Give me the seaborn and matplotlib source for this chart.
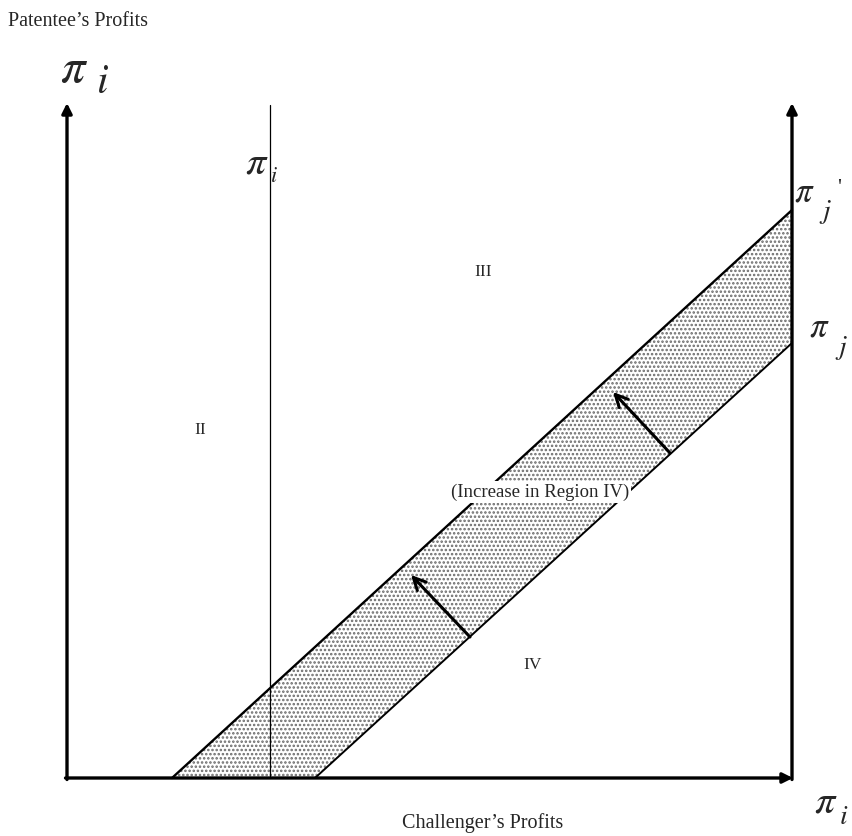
import numpy as np
import matplotlib
matplotlib.use("Agg")
import matplotlib.pyplot as plt
import seaborn as sns

# ---- data (origin at the axes corner, units ~ pixels) ----
axis_x_max = 725
axis_y_max = 673
threshold_x = 203                 # vertical line (pi_i threshold)
upper_line_x = [105, 725]         # pi_j' boundary
upper_line_y = [0, 568]
lower_line_x = [248, 725]         # pi_j boundary
lower_line_y = [0, 435]
arrow_tails = [(403, 141), (603, 325)]
arrow_heads = [(344, 203), (546, 386)]
region_labels = ["II", "III", "IV"]
region_pos = [(133, 348), (416, 506), (466, 113)]

sns.set_theme(style="white")
plt.rcParams["font.family"] = ["Liberation Serif", "DejaVu Serif"]
plt.rcParams["mathtext.fontset"] = "stix"
plt.rcParams["hatch.linewidth"] = 1.2

fig = plt.figure(figsize=(8.52, 8.36), dpi=100)
ax = fig.add_axes([0, 0, 1, 1])
ax.set_xlim(-67, 785)
ax.set_ylim(-58, 778)
ax.axis("off")

# shaded band
poly_x = list(upper_line_x) + list(lower_line_x[::-1])
poly_y = list(upper_line_y) + list(lower_line_y[::-1])
ax.fill(poly_x, poly_y, facecolor="white", edgecolor="#6a6a6a",
        hatch="....", linewidth=0, zorder=1)

# boundary lines
sns.lineplot(x=upper_line_x, y=upper_line_y, ax=ax, color="black", lw=1.7, zorder=3)
sns.lineplot(x=lower_line_x, y=lower_line_y, ax=ax, color="black", lw=1.4, zorder=3)

# threshold vertical line
ax.plot([threshold_x, threshold_x], [0, axis_y_max], color="black", lw=0.9, zorder=3)

# axes with arrows
ap = dict(arrowstyle="-|>", lw=2.4, color="black", mutation_scale=15,
          shrinkA=0, shrinkB=0)
ax.annotate("", xy=(0, axis_y_max + 2), xytext=(0, -1.5), arrowprops=ap, zorder=4)
ax.annotate("", xy=(axis_x_max, axis_y_max + 2), xytext=(axis_x_max, -1.5),
            arrowprops=ap, zorder=4)
ax.annotate("", xy=(axis_x_max + 1, 0), xytext=(-1.5, 0), arrowprops=ap, zorder=4)

# shift arrows
for (tx, ty), (hx, hy) in zip(arrow_tails, arrow_heads):
    ax.annotate("", xy=(hx, hy), xytext=(tx, ty),
                arrowprops=dict(arrowstyle="->", lw=2.2, color="black",
                                mutation_scale=22, shrinkA=0, shrinkB=0),
                zorder=5)

# region labels
for lab, (x, y) in zip(region_labels, region_pos):
    ax.text(x, y, lab, fontsize=12.5, ha="center", va="center", zorder=6)

ax.text(473, 286, "(Increase in Region IV)", fontsize=13.5, ha="center",
        va="center", zorder=6,
        bbox=dict(facecolor="white", edgecolor="none", pad=1.5))

# axis titles
ax.text(-59, 757, "Patentee\u2019s Profits", fontsize=14.5, ha="left", va="center")
ax.text(416, -45, "Challenger\u2019s Profits", fontsize=14.5, ha="center", va="center")

# pi labels
ax.text(-7, 708, r"$\pi$", fontsize=35, ha="left", va="center")
ax.text(29, 695, r"$i$", fontsize=30, ha="left", va="center")

ax.text(178, 614, r"$\pi$", fontsize=29, ha="left", va="center")
ax.text(203, 600, r"$i$", fontsize=16, ha="left", va="center")

ax.text(727, 585, r"$\pi$", fontsize=25, ha="left", va="center")
ax.text(752, 566, r"$j$", fontsize=20, ha="left", va="center")
ax.text(770, 590, "'", fontsize=16, ha="left", va="center")

ax.text(742, 450, r"$\pi$", fontsize=25, ha="left", va="center")
ax.text(768, 430, r"$j$", fontsize=20, ha="left", va="center")

ax.text(747, -25, r"$\pi$", fontsize=29, ha="left", va="center")
ax.text(772, -40, r"$i$", fontsize=20, ha="left", va="center")

fig.savefig("out.png", dpi=100)
